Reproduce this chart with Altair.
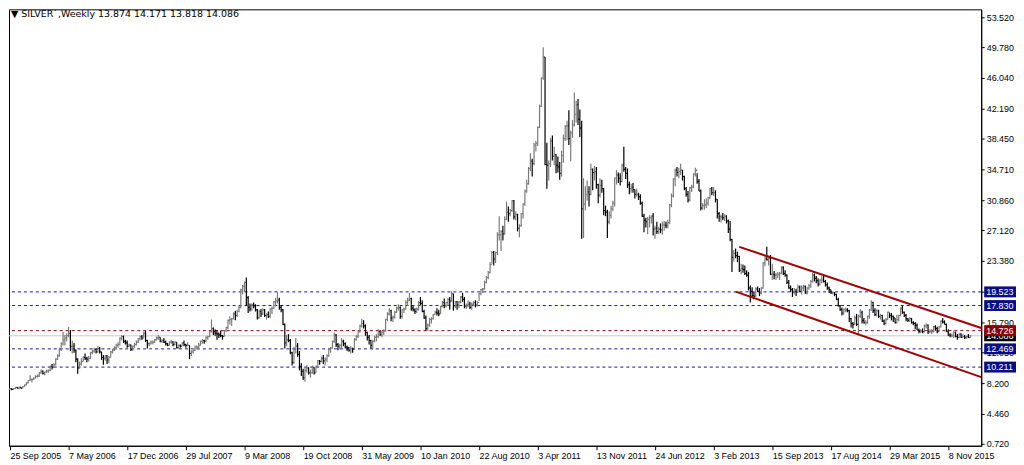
import json
import altair as alt
import pandas as pd

# ---------------- data (weekly bars, oldest first) ----------------
HIGH = [
    7.62,7.60,7.60,7.75,7.75,7.80,7.75,7.85,8.05,8.35,8.60,9.20,8.80,8.95,9.20,9.30,9.60,9.90,9.80,9.65,9.90,9.90,10.40,10.60,10.70,11.30,11.80,12.60,13.30,14.60,14.20,14.40,
    15.20,14.80,13.50,13.20,12.40,11.30,10.90,11.30,11.60,11.90,11.50,11.60,12.10,12.40,12.60,12.50,12.80,12.70,12.10,11.70,11.70,11.70,11.60,12.20,12.50,12.80,13.10,13.30,13.90,14.20,14.10,13.60,
    13.50,13.10,13.00,12.90,13.20,13.50,13.80,14.10,14.20,14.60,14.70,13.60,13.30,13.50,13.50,13.70,14.00,14.20,13.90,13.70,13.80,13.50,13.20,13.40,13.60,13.40,13.40,13.30,13.00,13.00,13.30,13.50,
    13.10,13.30,12.90,12.30,12.40,12.90,12.90,13.20,13.50,13.70,13.60,14.00,14.10,14.70,16.10,15.10,14.90,14.80,14.50,14.70,14.20,14.80,15.20,16.10,16.50,16.30,17.00,17.20,17.30,17.80,19.90,20.40,
    20.80,21.30,19.00,18.10,18.10,18.20,18.00,17.40,17.30,17.40,17.50,17.40,16.90,17.10,17.50,17.70,18.40,18.80,19.50,18.80,17.90,17.40,15.60,14.20,14.30,13.70,12.10,12.70,13.80,13.20,12.20,10.70,
    10.00,10.20,10.50,10.20,9.90,10.40,10.20,10.40,11.10,11.10,11.50,11.70,11.40,11.80,12.50,12.70,13.50,14.50,14.30,13.20,13.10,13.80,13.60,13.30,12.90,12.70,12.80,12.60,13.80,14.20,14.70,15.50,
    16.20,16.00,15.50,14.60,14.20,13.60,13.60,14.10,14.30,14.90,14.80,14.70,14.90,16.20,17.00,17.50,17.30,16.60,17.20,17.70,18.00,17.70,17.40,17.60,18.50,18.80,19.40,18.80,17.80,17.50,17.60,18.40,
    18.90,18.50,17.30,16.60,15.60,16.30,16.40,16.80,17.20,17.50,17.30,17.80,18.40,18.70,18.30,18.80,18.90,19.60,19.30,18.40,18.40,18.40,19.00,19.40,18.90,18.10,18.50,18.30,18.20,18.40,18.50,18.40,
    19.40,19.90,20.00,20.90,21.50,22.10,23.20,24.60,24.60,24.50,26.90,28.90,27.20,27.70,28.90,30.70,30.10,29.80,30.90,30.90,29.50,29.20,27.90,29.30,30.50,32.20,33.40,35.00,36.70,36.00,38.00,38.20,
    40.00,42.70,46.10,49.80,48.60,38.00,35.80,38.60,38.90,37.50,36.60,36.30,35.60,37.00,39.00,40.20,40.70,42.00,39.50,40.80,44.20,43.20,43.40,42.10,40.70,33.60,32.60,33.30,32.60,35.40,34.80,35.10,
    35.00,32.90,33.60,33.40,32.40,30.20,29.70,29.50,30.20,30.80,33.70,34.60,34.30,34.20,35.40,37.50,35.00,34.80,33.20,32.90,33.00,32.20,32.30,31.80,31.60,30.70,29.20,28.70,28.80,29.00,29.00,29.30,
    27.70,28.20,27.60,28.00,28.20,28.30,28.20,28.50,30.40,31.70,33.60,34.80,35.00,34.90,35.40,34.60,33.90,32.50,32.00,32.50,32.80,34.20,34.90,34.20,33.50,32.20,30.50,31.00,31.10,31.30,32.40,32.50,
    32.50,32.10,31.00,29.40,29.10,29.30,29.10,29.00,28.50,28.30,26.10,24.70,24.90,24.50,24.00,23.00,22.90,22.80,22.20,22.00,20.30,20.10,19.50,20.10,20.20,20.00,20.10,23.20,24.00,25.10,24.00,24.10,
    23.00,22.10,21.90,22.00,22.00,22.70,22.70,22.20,21.70,21.00,20.30,20.00,20.00,19.90,20.40,20.30,20.30,20.40,20.30,20.10,20.50,21.00,21.90,21.80,21.50,21.20,21.10,21.50,21.60,21.00,20.70,20.20,
    19.80,19.60,19.50,19.30,18.80,17.90,17.60,17.50,17.60,17.50,17.30,16.30,15.80,16.60,16.80,16.70,17.40,17.20,16.30,16.00,16.60,17.40,18.50,18.30,17.50,17.40,17.30,16.80,16.70,16.10,16.30,17.10,
    16.90,16.90,16.60,16.30,16.70,16.70,17.60,17.80,17.10,16.80,16.30,16.40,16.30,15.90,15.80,15.60,15.00,14.90,15.00,15.50,15.60,15.50,14.90,14.90,15.30,15.40,15.20,15.30,16.00,16.30,16.00,15.60,
    14.90,14.40,14.40,14.70,14.60,14.30,14.40,14.40,14.30,14.20,14.10,14.30,14.171,
]
LOW = [
    7.38,7.35,7.40,7.50,7.55,7.50,7.55,7.55,7.75,7.95,8.20,8.50,8.30,8.60,8.80,8.90,9.00,9.40,9.30,9.20,9.50,9.50,9.70,9.90,10.10,10.40,11.10,11.50,12.20,12.90,12.90,13.40,
    13.90,12.20,11.90,12.00,10.80,9.40,10.00,10.40,10.90,11.10,10.80,10.90,11.20,11.80,12.00,11.90,12.00,11.90,11.10,10.50,11.00,10.60,10.70,11.40,11.90,12.20,12.40,12.60,12.90,13.50,13.20,13.00,
    12.60,12.70,12.20,12.20,12.60,12.90,13.20,13.50,13.60,13.80,13.30,12.50,12.80,13.00,13.00,13.20,13.50,13.60,13.30,13.20,13.20,12.90,12.80,12.90,13.10,12.80,12.90,12.50,12.50,12.60,12.80,12.80,
    12.60,12.80,11.20,11.60,11.90,12.20,12.40,12.40,12.90,13.10,13.10,13.30,13.60,13.90,14.50,14.20,14.10,13.60,13.80,13.90,13.60,14.00,14.60,14.90,15.50,15.30,16.10,16.00,16.40,17.00,17.50,19.20,
    19.50,17.80,16.90,17.10,17.20,17.50,17.10,16.10,16.20,16.40,16.70,16.40,16.10,16.30,16.30,16.80,17.40,17.70,18.10,17.30,17.00,15.40,12.50,12.80,13.30,11.80,10.40,10.60,11.90,11.50,9.80,9.10,
    8.60,8.40,9.50,9.30,8.90,9.40,9.30,9.50,10.20,10.50,10.80,10.60,10.40,10.80,11.50,12.00,12.50,13.20,12.70,12.30,12.40,12.50,12.80,12.50,12.20,12.10,11.90,12.00,12.40,13.50,13.80,14.50,
    15.10,15.00,14.10,13.50,13.00,12.50,12.40,13.30,13.40,13.80,14.10,13.90,14.20,14.60,15.90,16.60,15.90,15.80,16.20,16.90,17.20,16.20,16.20,16.90,17.30,17.80,18.40,17.20,17.10,16.80,16.90,17.20,
    17.90,17.00,16.20,14.70,14.70,15.20,15.60,16.10,16.70,16.60,16.50,16.80,17.60,17.50,17.60,17.80,17.30,18.30,17.20,17.50,17.30,17.50,18.10,18.30,17.50,17.40,17.60,17.40,17.30,17.80,17.60,17.70,
    18.40,19.10,19.40,19.80,20.60,21.10,21.80,23.00,22.80,23.10,24.10,25.90,24.60,25.90,26.60,28.40,28.20,28.90,29.40,28.50,28.40,27.00,26.30,27.60,28.60,30.20,31.80,32.80,34.50,33.80,35.20,36.90,
    37.60,39.80,42.40,45.80,35.20,32.30,33.30,35.00,35.80,35.20,34.20,34.30,33.40,33.80,35.50,38.20,38.30,37.70,35.70,38.60,40.00,40.50,40.20,38.70,26.10,26.20,29.60,30.80,30.10,31.50,32.10,33.30,
    32.30,30.50,31.20,31.80,29.00,28.90,26.20,27.90,28.60,29.50,30.10,32.80,33.00,32.70,33.10,34.40,33.50,32.40,31.60,31.80,31.80,31.10,31.30,30.90,30.30,28.80,26.90,27.50,26.70,27.50,28.00,26.50,
    26.10,26.70,26.70,26.80,26.60,27.10,27.40,27.40,27.90,30.00,31.20,32.60,33.80,33.60,34.00,33.30,32.10,31.30,30.60,30.70,31.90,32.40,33.80,32.90,32.00,29.60,29.70,29.70,29.90,30.20,31.00,31.50,
    31.40,30.60,28.60,28.20,28.10,28.40,28.30,28.00,26.80,25.80,22.00,23.30,23.70,23.20,22.00,21.70,21.90,21.60,21.40,19.70,18.20,18.80,18.60,18.90,19.50,19.00,19.20,19.90,22.70,23.40,22.80,21.60,
    21.00,21.10,21.00,21.20,21.00,21.70,21.60,21.40,20.50,19.90,19.50,18.90,19.20,19.00,19.40,19.50,19.20,19.60,19.30,19.20,19.80,20.00,20.70,20.80,20.60,20.20,20.30,20.60,20.70,20.20,19.80,19.40,
    19.30,19.20,19.00,18.50,17.70,17.20,16.60,16.70,17.00,17.00,15.80,15.10,15.00,15.40,15.30,14.20,16.30,15.60,15.60,15.40,15.60,16.20,17.20,16.90,16.50,16.50,16.30,16.10,15.80,15.40,15.50,16.00,
    16.30,16.00,15.80,15.60,15.60,15.90,16.50,16.80,16.40,15.90,15.80,15.80,15.60,15.40,14.90,14.80,14.40,14.40,14.40,14.50,15.00,14.30,14.40,14.30,14.50,14.70,14.40,14.60,15.10,15.60,15.50,14.60,
    14.10,13.90,13.90,13.80,13.90,13.60,13.80,13.80,13.80,13.70,13.70,13.80,13.818,
]
CLOSE = [
    7.53,7.45,7.55,7.70,7.60,7.72,7.60,7.80,8.00,8.25,8.55,8.70,8.70,8.85,9.05,9.10,9.50,9.70,9.45,9.60,9.70,9.80,10.30,10.20,10.50,11.20,11.60,12.40,13.10,13.60,13.80,14.10,
    14.40,12.80,12.80,12.30,11.20,10.10,10.60,10.90,11.40,11.30,11.20,11.30,12.00,12.20,12.40,12.10,12.50,12.10,11.40,11.30,11.60,11.10,11.40,12.10,12.30,12.60,12.90,13.00,13.80,14.00,13.40,13.20,
    12.80,12.95,12.40,12.80,13.00,13.30,13.70,14.00,13.80,14.40,13.50,13.10,13.10,13.30,13.30,13.60,13.80,13.90,13.40,13.50,13.30,13.10,12.90,13.30,13.30,13.00,13.30,12.60,12.90,12.80,13.20,13.00,
    12.90,12.90,11.90,12.10,12.30,12.70,12.70,12.90,13.40,13.50,13.40,13.90,14.00,14.60,15.00,14.60,14.40,14.30,14.20,14.10,14.00,14.70,15.10,16.00,16.10,16.20,16.80,16.60,17.10,17.60,19.80,20.20,
    20.70,18.80,17.60,17.40,17.90,17.80,17.30,16.30,17.10,16.80,17.30,16.60,16.70,16.50,17.40,17.50,18.30,18.40,18.50,17.60,17.30,15.50,13.20,13.60,13.50,12.00,10.80,12.40,12.80,11.80,10.30,9.70,
    8.90,9.80,10.10,9.50,9.50,10.20,9.50,10.30,11.00,10.90,11.30,11.00,11.20,11.60,12.40,12.60,13.40,14.20,13.00,12.80,12.90,13.40,13.10,12.70,12.60,12.30,12.50,12.40,13.60,14.00,14.60,15.30,
    15.60,15.30,14.50,13.90,13.50,12.90,13.40,13.90,14.00,14.60,14.20,14.50,14.70,16.10,16.80,17.20,16.30,16.40,17.00,17.50,17.60,16.50,17.30,17.40,18.20,18.50,18.70,17.50,17.30,17.10,17.40,18.20,
    18.10,17.10,16.30,15.00,15.40,16.10,16.20,16.70,17.00,16.90,16.80,17.70,18.20,17.80,18.20,18.60,18.40,19.30,17.80,18.30,17.90,18.30,18.90,18.60,17.70,17.90,18.00,17.60,18.00,18.20,17.90,18.20,
    19.30,19.80,19.90,20.70,21.30,21.90,22.90,24.40,23.60,24.40,26.60,26.60,27.00,26.70,28.50,29.40,29.20,29.60,30.80,28.80,29.10,27.40,27.70,29.20,30.40,32.00,32.90,34.80,35.70,35.40,37.70,37.90,
    39.90,42.50,46.00,48.60,35.30,35.20,35.40,38.20,36.30,36.50,35.20,35.00,34.20,36.40,38.50,40.00,40.10,38.50,39.20,40.20,41.50,42.70,40.90,39.80,29.80,30.40,31.60,31.90,31.60,34.70,34.30,34.40,
    32.80,31.50,32.70,32.30,29.60,29.40,28.20,29.00,29.80,30.50,33.60,34.00,33.60,33.20,35.20,34.70,34.20,32.80,32.30,32.50,32.20,31.60,31.60,31.30,30.50,28.90,28.40,28.20,28.50,28.70,28.90,27.30,
    27.40,27.00,27.30,27.20,27.80,27.80,27.70,28.10,30.30,31.40,33.50,34.60,34.30,34.40,34.60,33.80,32.30,31.60,30.90,32.40,32.50,34.10,34.60,33.20,32.00,29.90,30.20,30.30,30.50,31.20,32.30,31.80,
    31.80,31.00,29.20,28.80,28.80,28.70,28.90,28.30,27.30,26.00,23.80,24.30,24.00,23.90,22.20,22.40,22.30,21.80,21.60,20.00,19.60,19.10,19.00,19.90,19.60,19.40,20.00,23.10,23.60,23.50,23.70,21.70,
    21.70,21.60,21.60,21.70,21.80,22.50,21.80,21.60,20.70,20.00,19.80,19.50,19.60,19.50,20.10,19.60,20.00,20.20,19.40,20.00,20.30,20.80,21.60,21.20,20.90,20.50,21.00,21.00,20.80,20.40,20.00,19.80,
    19.40,19.40,19.20,18.60,17.80,17.30,16.90,17.30,17.30,17.20,16.20,15.60,15.50,16.30,15.50,16.50,17.00,16.00,15.70,15.70,16.50,17.30,18.20,17.20,16.70,17.20,16.50,16.60,15.90,15.60,16.10,17.00,
    16.60,16.50,16.30,15.70,16.10,16.60,17.50,17.00,16.60,16.20,16.00,16.20,15.70,15.60,15.40,14.80,14.60,14.70,14.60,15.30,15.40,14.60,14.60,14.60,15.20,15.00,14.60,15.20,15.90,15.80,15.50,14.60,
    14.20,14.10,14.10,14.50,14.00,13.90,14.30,13.90,14.00,13.90,14.00,13.874,14.086,
]
FIRST_OPEN = 7.45

DATE_LABELS = ["25 Sep 2005", "7 May 2006", "17 Dec 2006", "29 Jul 2007", "9 Mar 2008",
               "19 Oct 2008", "31 May 2009", "10 Jan 2010", "22 Aug 2010", "3 Apr 2011",
               "13 Nov 2011", "24 Jun 2012", "3 Feb 2013", "15 Sep 2013", "17 Aug 2014",
               "29 Mar 2015", "8 Nov 2015"]
BARS_PER_LABEL = 32
PRICE_TICKS = [53.52, 49.78, 46.04, 42.19, 38.45, 34.71, 30.86, 27.12, 23.38, 19.53,
               15.79, 12.05, 8.20, 4.46, 0.72]
BLUE_LEVELS = [19.523, 17.830, 12.469, 10.211]
RED_LEVEL = [14.726]
LAST_PRICE = [14.086]
CHANNEL_X = [398, 530]
CHANNEL_UPPER = [25.10, 15.05]
CHANNEL_LOWER_X = [396, 530]
CHANNEL_LOWER = [19.55, 8.97]
TITLE = "\u25bc SILVER`,Weekly  13.874 14.171 13.818 14.086"

# ---------------- layout ----------------
W, H = 978, 439
Y_DOMAIN = [0.4738, 54.5046]
X_DOMAIN = [-0.5, 530]
FONT = "Liberation Sans"
NAVY = "#1414a0"
TAGNAVY = "#0b0b84"
MAROON = "#8b0000"

n = min(len(HIGH), len(LOW), len(CLOSE))
opens = [FIRST_OPEN] + CLOSE[: n - 1]
df = pd.DataFrame({"i": list(range(n)), "o": opens, "h": HIGH[:n], "l": LOW[:n], "c": CLOSE[:n]})
df["dir"] = ["up" if c >= o else "down" for o, c in zip(df["o"], df["c"])]
df["il"] = df["i"] - 0.6
df["ir"] = df["i"] + 0.6

xs = alt.Scale(domain=X_DOMAIN, nice=False, zero=False)
ys = alt.Scale(domain=Y_DOMAIN, nice=False, zero=False)
col = alt.Color("dir:N", scale=alt.Scale(domain=["up", "down"], range=["#7a7a7a", "#000000"]), legend=None)

label_expr = json.dumps(DATE_LABELS) + "[round(datum.value / %d)]" % BARS_PER_LABEL
x_axis = alt.Axis(values=[k * BARS_PER_LABEL for k in range(len(DATE_LABELS))], labelExpr=label_expr,
                  labelAlign="left", labelPadding=2, tickSize=4, labelFontSize=9, labelFont=FONT,
                  labelColor="black", tickColor="black", domainColor="black", grid=False, title=None,
                  labelOverlap=False, labelBound=False, labelFlush=False)
y_axis = alt.Axis(orient="right", values=PRICE_TICKS, format=".3f", labelPadding=2, tickSize=3,
                  labelFontSize=9, labelFont=FONT, labelColor="black", tickColor="black",
                  domainColor="black", grid=False, title=None, labelOverlap=False)


def X(field):
    return alt.X(field, scale=xs, axis=x_axis)


def Y(field):
    return alt.Y(field, scale=ys, axis=y_axis)


base = alt.Chart(df)
hl = base.mark_rule(strokeWidth=1.2).encode(x=X("i:Q"), y=Y("l:Q"), y2="h:Q", color=col)
op = base.mark_rule(strokeWidth=1).encode(x=X("il:Q"), x2="i:Q", y=Y("o:Q"), color=col)
cl = base.mark_rule(strokeWidth=1).encode(x=X("i:Q"), x2="ir:Q", y=Y("c:Q"), color=col)

last_line = alt.Chart(pd.DataFrame({"p": LAST_PRICE})).mark_rule(color="#c8c8c8", strokeWidth=1).encode(
    y=Y("p:Q"))
blue_lines = alt.Chart(pd.DataFrame({"p": BLUE_LEVELS})).mark_rule(
    color=NAVY, strokeWidth=1, strokeDash=[3, 3]).encode(y=Y("p:Q"))
red_line = alt.Chart(pd.DataFrame({"p": RED_LEVEL})).mark_rule(
    color=MAROON, strokeWidth=1, strokeDash=[3, 3]).encode(y=Y("p:Q"))

ch = pd.DataFrame({"x": [CHANNEL_X[0], CHANNEL_LOWER_X[0]], "x2": [CHANNEL_X[1], CHANNEL_LOWER_X[1]],
                   "y": [CHANNEL_UPPER[0], CHANNEL_LOWER[0]], "y2": [CHANNEL_UPPER[1], CHANNEL_LOWER[1]]})
channel = alt.Chart(ch).mark_rule(color="#a00000", strokeWidth=2, clip=True).encode(
    x=X("x:Q"), x2="x2:Q", y=Y("y:Q"), y2="y2:Q")

# price tags on the right axis
px_per_unit = H / (Y_DOMAIN[1] - Y_DOMAIN[0])
half = 5.5 / px_per_unit
tags = pd.DataFrame({
    "p": LAST_PRICE + BLUE_LEVELS + RED_LEVEL,
    "fill": ["#000000"] + [TAGNAVY] * len(BLUE_LEVELS) + [MAROON],
})
tags["lo"] = tags["p"] - half
tags["hi"] = tags["p"] + half
tags["txt"] = tags["p"].map(lambda v: "%.3f" % v)
tag_layers = []
for _, r in tags.iterrows():
    d = pd.DataFrame([r])
    box = alt.Chart(d).mark_rect(stroke=None).encode(
        x=alt.value(W + 3), x2=alt.value(W + 35),
        y=Y("lo:Q"), y2="hi:Q",
        color=alt.Color("fill:N", scale=None))
    txt = alt.Chart(d).mark_text(align="left", baseline="middle", color="white",
                                 font=FONT, fontSize=9).encode(
        x=alt.value(W + 5), y=Y("p:Q"), text="txt:N")
    tag_layers += [box, txt]

title = alt.Chart(pd.DataFrame({"t": [TITLE]})).mark_text(
    align="left", baseline="middle", font="DejaVu Sans", fontSize=9.5, color="black").encode(
    x=alt.value(2), y=alt.value(5), text="t:N")

chart = alt.layer(last_line, blue_lines, red_line, hl, op, cl, channel, title, *tag_layers).properties(
    width=W, height=H, padding=0, background="white"
).configure_view(stroke="black", strokeWidth=1)

chart.save("out.html", embed_options={"renderer": "svg", "actions": False})
